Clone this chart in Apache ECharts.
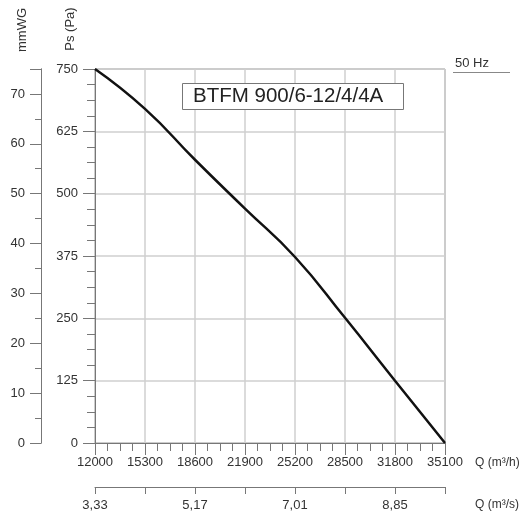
<!DOCTYPE html>
<html><head><meta charset="utf-8">
<script src="https://cdn.jsdelivr.net/npm/echarts@6/dist/echarts.min.js"></script>
<style>html,body{margin:0;padding:0;background:#fff}#c{width:525px;height:518px}</style>
</head><body><div id="c"></div>
<script>
const flowM3h = [12000, 15300, 18600, 21900, 25200, 28500, 31800, 35100];
const pressurePa = [750, 670, 568, 470, 373, 251, 125, 0];
const flowTickStep = 3300;
const paTickStep = 125;
const paMax = 750;
const mmwgMax = 75;
const flowM3sLabels = ['3,33', '5,17', '7,01', '8,85'];
const chartTitle = 'BTFM 900/6-12/4/4A';
const freqLabel = '50 Hz';
const nameMmwg = 'mmWG';
const namePa = 'Ps (Pa)';
const nameQh = 'Q (m³/h)';
const nameQs = 'Q (m³/s)';

const FONT = '"Liberation Sans", Arial, sans-serif';
const TXT = '#333';
const AX = '#777';
const GRID = '#cfcfcf';

const chart = echarts.init(document.getElementById('c'), null, {renderer: 'canvas'});
const xmin = flowM3h[0], xmax = flowM3h[flowM3h.length - 1];

const option = {
  animation: false,
  backgroundColor: '#fff',
  textStyle: {fontFamily: FONT},
  title: {
    text: chartTitle, left: 182, top: 83, padding: [3, 20, 3, 11],
    borderColor: '#777', borderWidth: 1, backgroundColor: '#fff',
    textStyle: {fontFamily: FONT, fontSize: 20.5, fontWeight: 'normal', color: '#222'}
  },
  grid: {left: 95, right: 80, top: 69, bottom: 75, show: true, borderColor: '#888', borderWidth: 1, backgroundColor: 'transparent'},
  xAxis: [
    {
      type: 'value', min: xmin, max: xmax, interval: flowTickStep, position: 'bottom',
      axisLine: {show: true, onZero: false, lineStyle: {color: AX}},
      axisTick: {show: true, length: 12, lineStyle: {color: AX}},
      minorTick: {show: true, splitNumber: 4, length: 8, lineStyle: {color: AX}},
      axisLabel: {margin: 13, color: TXT, fontSize: 13, fontFamily: FONT, formatter: function (v) { return String(v); }},
      splitLine: {show: true, lineStyle: {color: GRID, width: 1.5}}
    },
    {
      type: 'value', min: xmin, max: xmax, interval: flowTickStep, position: 'bottom', offset: 44,
      axisLine: {show: true, onZero: false, lineStyle: {color: AX}},
      axisTick: {show: true, length: 7, lineStyle: {color: AX}},
      axisLabel: {
        margin: 12, color: TXT, fontSize: 13, fontFamily: FONT,
        formatter: function (v) {
          const i = Math.round((v - xmin) / flowTickStep);
          return (i % 2 === 0 && i / 2 < flowM3sLabels.length) ? flowM3sLabels[i / 2] : '';
        }
      },
      splitLine: {show: false}
    }
  ],
  yAxis: [
    {
      type: 'value', min: 0, max: paMax, interval: paTickStep, position: 'left',
      axisLine: {show: true, onZero: false, lineStyle: {color: AX}},
      axisTick: {show: true, length: 12, lineStyle: {color: AX}},
      minorTick: {show: true, splitNumber: 4, length: 8, lineStyle: {color: AX}},
      axisLabel: {margin: 17, color: TXT, fontSize: 13, fontFamily: FONT},
      splitLine: {show: true, lineStyle: {color: GRID, width: 1.5}}
    },
    {
      type: 'value', min: 0, max: mmwgMax, interval: 5, position: 'left', offset: 54,
      axisLine: {show: true, onZero: false, lineStyle: {color: AX}},
      axisTick: {show: true, length: 6, lineStyle: {color: AX}},
      axisLabel: {show: false},
      splitLine: {show: false}
    },
    {
      type: 'value', min: 0, max: mmwgMax, interval: 10, position: 'left', offset: 54,
      axisLine: {show: true, onZero: false, lineStyle: {color: AX}},
      axisTick: {show: true, length: 11, lineStyle: {color: AX}},
      axisLabel: {
        margin: 16, color: TXT, fontSize: 13, fontFamily: FONT,
        formatter: function (v) { return v % 10 === 0 ? String(v) : ''; }
      },
      splitLine: {show: false}
    }
  ],
  series: [{
    type: 'line', xAxisIndex: 0, yAxisIndex: 0,
    data: flowM3h.map((q, i) => [q, pressurePa[i]]),
    symbol: 'none', showSymbol: false, smooth: 0.5,
    lineStyle: {color: '#111', width: 2.5}, z: 5
  }],
  graphic: [
    {type: 'text', x: 22, y: 30, rotation: Math.PI / 2, style: {text: nameMmwg, align: 'center', verticalAlign: 'middle', font: '13px ' + FONT, fill: TXT}},
    {type: 'text', x: 70, y: 29, rotation: Math.PI / 2, style: {text: namePa, align: 'center', verticalAlign: 'middle', font: '13px ' + FONT, fill: TXT}},
    {type: 'text', x: 455, y: 63, style: {text: freqLabel, align: 'left', verticalAlign: 'middle', font: '13px ' + FONT, fill: TXT}},
    {type: 'line', shape: {x1: 453, y1: 72.5, x2: 510, y2: 72.5}, style: {stroke: '#888', lineWidth: 1}},
    {type: 'text', x: 475, y: 463, style: {text: nameQh, align: 'left', verticalAlign: 'middle', font: '12px ' + FONT, fill: TXT}},
    {type: 'text', x: 475, y: 505, style: {text: nameQs, align: 'left', verticalAlign: 'middle', font: '12px ' + FONT, fill: TXT}}
  ]
};
chart.setOption(option);
</script>
</body></html>
